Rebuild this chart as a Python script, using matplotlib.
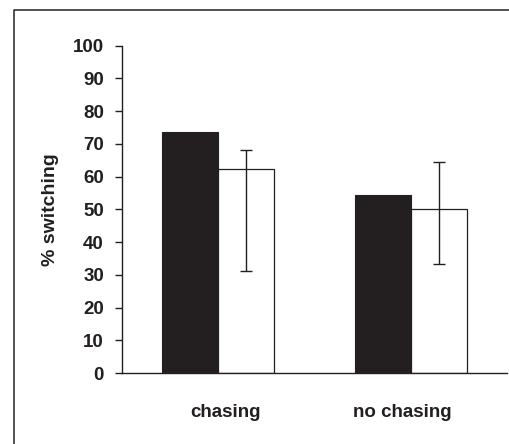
import numpy as np
import matplotlib.pyplot as plt
from matplotlib.lines import Line2D

plt.rcParams['font.family'] = ['Liberation Sans', 'DejaVu Sans']
plt.rcParams['font.weight'] = 'bold'

groups = ['chasing', 'no chasing']
black_vals = [73.6, 54.3]
white_vals = [62.4, 50.0]
white_err_low = [31.2, 33.3]
white_err_high = [68.1, 64.5]

ink = '#231f20'
x = np.arange(len(groups))
w = 0.29

fig = plt.figure(figsize=(5.10, 4.44), dpi=100)
ax = fig.add_axes([122/510, 1-373/444, (507-122)/510, (373-45.7)/444])

# outer frame: only top and left edges are in the picture
fx = 14/510
fy = 1 - 10/444
fig.lines.append(Line2D([fx, fx, 1.1], [-0.1, fy, fy], transform=fig.transFigure,
                        color='#333333', linewidth=1.2))

ax.bar(x - w/2, black_vals, w, color=ink, edgecolor=ink, linewidth=0.8)
ax.bar(x + w/2, white_vals, w, color='white', edgecolor=ink, linewidth=0.9)
lo = np.array(white_vals) - np.array(white_err_low)
hi = np.array(white_err_high) - np.array(white_vals)
ax.errorbar(x + w/2, white_vals, yerr=[lo, hi], fmt='none', ecolor=ink,
            elinewidth=1.0, capsize=4, capthick=1.0)

ax.set_xlim(-0.5, 1.5)
ax.set_ylim(0, 100)
ax.set_yticks(np.arange(0, 101, 10))
ax.spines['top'].set_visible(False)
ax.spines['right'].set_visible(False)
for s in ['left', 'bottom']:
    ax.spines[s].set_color(ink)
    ax.spines[s].set_linewidth(1.0)

label_pos = [0.04, 0.955]
ax.set_xticks(label_pos)
ax.set_xticklabels(groups, fontsize=13.5, fontweight='bold', color=ink)
ax.tick_params(axis='x', length=0, pad=22)
ax.tick_params(axis='y', direction='out', length=5, width=1.0, color=ink,
               labelsize=13.5, labelcolor=ink, pad=8)
for t in ax.get_yticklabels():
    t.set_fontweight('bold')

ax.set_ylabel('% switching', fontsize=14, fontweight='bold', color=ink)
ax.yaxis.set_label_coords(-(122-59)/385, 0.5)

fig.savefig('out.png', dpi=100)
